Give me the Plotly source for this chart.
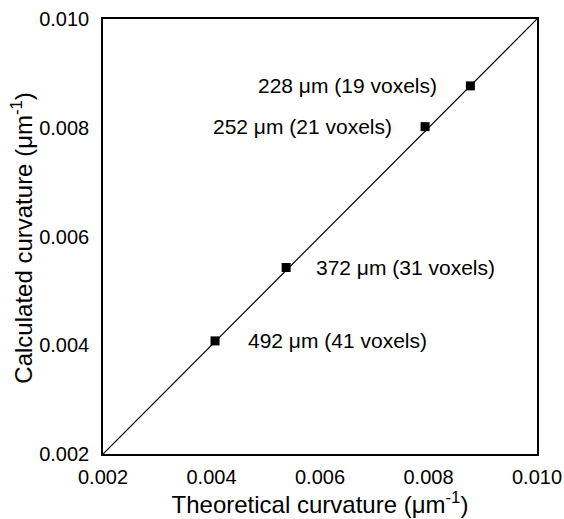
import plotly.graph_objects as go

theoretical = [0.004065, 0.005376, 0.007937, 0.008772]
calculated = [0.00408, 0.00543, 0.00802, 0.00877]
labels = ["492 μm (41 voxels)", "372 μm (31 voxels)", "252 μm (21 voxels)", "228 μm (19 voxels)"]
label_side = ["right", "right", "left", "left"]
label_shift = [31, 28, -31, -31]
identity = [0.002, 0.010]
tick_vals = [0.002, 0.004, 0.006, 0.008, 0.010]
tick_text = ["0.002", "0.004", "0.006", "0.008", "0.010"]

FONT = "Liberation Sans"

fig = go.Figure()
fig.add_trace(go.Scatter(x=identity, y=identity, mode="lines",
                         line=dict(color="black", width=1.2), showlegend=False, hoverinfo="skip"))
fig.add_trace(go.Scatter(x=theoretical, y=calculated, mode="markers",
                         marker=dict(symbol="square", size=9, color="black"), showlegend=False))

for xv, yv, t, side, sh in zip(theoretical, calculated, labels, label_side, label_shift):
    fig.add_annotation(x=xv, y=yv, text=t, showarrow=False,
                       xanchor="left" if side == "right" else "right", yanchor="middle",
                       xshift=sh, font=dict(size=21, color="black", family=FONT))

# y-axis title
fig.add_annotation(xref="paper", yref="paper", x=-0.187, y=0.497, textangle=-90,
                   text="Calculated curvature (μm<sup>-1</sup>)", showarrow=False,
                   xanchor="center", yanchor="middle",
                   font=dict(size=24, color="black", family=FONT))

axis_common = dict(range=[0.002, 0.010], tickvals=tick_vals, ticktext=tick_text, automargin=False,
                   showgrid=False, zeroline=False, showline=True, linecolor="black", linewidth=1.5,
                   mirror=True, ticks="", tickfont=dict(size=20, color="black", family=FONT))

fig.update_layout(
    width=564, height=519,
    margin=dict(l=103, r=27, t=19, b=65, autoexpand=False),
    paper_bgcolor="white", plot_bgcolor="white",
    font=dict(family=FONT, color="black"),
    xaxis=dict(**axis_common, ticklabelstandoff=4,
               title=dict(text="Theoretical curvature (μm<sup>-1</sup>)", font=dict(size=24, color="black", family=FONT), standoff=2)),
    yaxis=dict(**axis_common, ticklabelstandoff=8),
)

fig.write_html("out.html", config={"displayModeBar": False},
               post_script="document.body.style.margin='0';document.body.style.overflow='hidden';")
